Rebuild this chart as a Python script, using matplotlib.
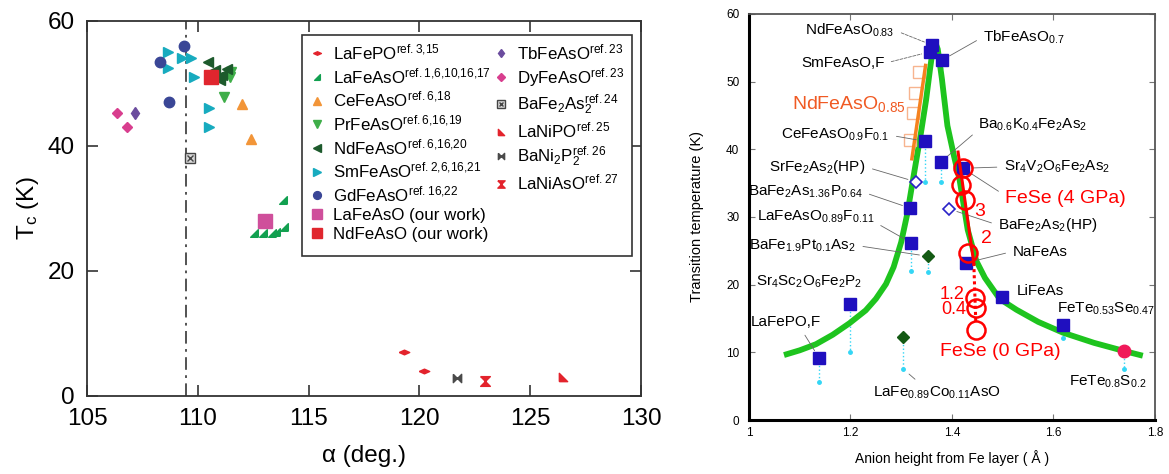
import numpy as np
import matplotlib.pyplot as plt
from matplotlib.lines import Line2D

plt.rcParams['font.family'] = ['Liberation Sans', 'DejaVu Sans']
plt.rcParams['mathtext.default'] = 'regular'

# ---------------- left panel: Tc vs As-Fe-As bond angle ----------------
lafepo_a, lafepo_tc = [119.3, 120.2], [7.0, 4.0]
lafeaso_a = [112.55, 112.95, 113.35, 113.55, 113.9, 113.85]
lafeaso_tc = [26.1, 26.1, 26.1, 26.3, 27.1, 31.4]
cefeaso_a, cefeaso_tc = [112.0, 112.4], [46.7, 41.1]
prfeaso_a, prfeaso_tc = [111.18, 111.5, 111.45], [47.9, 51.9, 51.1]
ndfeaso_a = [110.45, 110.8, 111.0, 111.3, 111.1, 110.9]
ndfeaso_tc = [53.5, 52.2, 50.6, 52.3, 51.4, 51.0]
smfeaso_a = [108.65, 108.65, 109.3, 109.7, 109.85, 110.5, 110.5]
smfeaso_tc = [55.0, 52.4, 54.0, 54.0, 51.0, 46.0, 43.0]
gdfeaso_a, gdfeaso_tc = [109.4, 108.3, 108.7], [56.0, 53.5, 47.0]
la_our_a, la_our_tc = [113.05], [28.0]
nd_our_a, nd_our_tc = [110.58], [51.1]
tbfeaso_a, tbfeaso_tc = [107.15], [45.3]
dyfeaso_a, dyfeaso_tc = [106.35, 106.8], [45.3, 43.0]
bafe2as2_a, bafe2as2_tc = [109.65], [38.0]
lanipo_a, lanipo_tc = [126.5], [3.0]
bani2p2_a, bani2p2_tc = [121.7], [2.9]
laniaso_a, laniaso_tc = [122.95], [2.4]
alpha_regular = 109.47

# ---------------- right panel: Tc vs anion height ----------------
sq_names = [r'NdFeAsO$_{0.83}$', 'SmFeAsO,F', r'TbFeAsO$_{0.7}$',
            r'CeFeAsO$_{0.9}$F$_{0.1}$', r'Ba$_{0.6}$K$_{0.4}$Fe$_2$As$_2$',
            r'Sr$_4$V$_2$O$_6$Fe$_2$As$_2$', r'BaFe$_2$As$_{1.36}$P$_{0.64}$',
            r'LaFeAsO$_{0.89}$F$_{0.11}$', 'NaFeAs', 'LiFeAs',
            r'FeTe$_{0.53}$Se$_{0.47}$', r'Sr$_4$Sc$_2$O$_6$Fe$_2$P$_2$', 'LaFePO,F']
sq_h = [1.361, 1.356, 1.381, 1.346, 1.379, 1.4216, 1.318, 1.3195, 1.427,
        1.499, 1.619, 1.1996, 1.138]
sq_tc = [55.4, 54.4, 53.2, 41.2, 38.2, 37.2, 31.3, 26.2, 23.2, 18.2, 14.0, 17.1, 9.2]
sq_drop = [np.nan, 52.2, 50.2, 35.2, 35.2, np.nan, np.nan, 22.0, np.nan,
           np.nan, 12.1, 10.1, 5.6]

gd_names = [r'BaFe$_{1.9}$Pt$_{0.1}$As$_2$', r'LaFe$_{0.89}$Co$_{0.11}$AsO']
gd_h, gd_tc, gd_drop = [1.352, 1.303], [24.2, 12.2], [21.8, 7.6]

od_names = [r'SrFe$_2$As$_2$(HP)', r'BaFe$_2$As$_2$(HP)']
od_h, od_tc = [1.329, 1.394], [35.2, 31.2]

fets_name = r'FeTe$_{0.8}$S$_{0.2}$'
fets_h, fets_tc, fets_drop = [1.739], [10.2], [7.6]

nd085_h = [1.336, 1.328, 1.323, 1.318]
nd085_tc = [51.4, 48.3, 45.3, 41.4]
nd085_line_h, nd085_line_tc = [1.321, 1.348], [38.6, 52.4]

fese_h = [1.4216, 1.418, 1.425, 1.431, 1.445, 1.447, 1.448]
fese_tc = [37.2, 34.7, 32.5, 24.7, 18.0, 16.5, 13.3]
fese_line_h, fese_line_tc = [1.412, 1.443], [39.6, 23.2]
fese_dot_h, fese_dot_tc = [1.443, 1.447], [23.2, 14.3]

curve_h = [1.069, 1.10, 1.132, 1.165, 1.198, 1.23, 1.25, 1.27, 1.285, 1.30,
           1.312, 1.322, 1.339, 1.349, 1.357, 1.362, 1.367, 1.372, 1.38, 1.391,
           1.404, 1.415, 1.431, 1.448, 1.465, 1.494, 1.527, 1.57, 1.619, 1.68,
           1.739, 1.776]
curve_tc = [9.6, 10.3, 11.2, 12.6, 14.3, 16.2, 17.9, 20.1, 22.6, 26.3,
            30.5, 35.0, 42.5, 47.3, 52.0, 54.6, 55.8, 54.8, 50.5, 43.5,
            39.0, 35.5, 28.1, 23.5, 21.0, 17.9, 16.3, 14.5, 12.9, 11.4,
            10.2, 9.5]

fig = plt.figure(figsize=(11.69, 4.74), dpi=100)
ax1 = fig.add_axes([0.0744, 0.1646, 0.4739, 0.7911])
ax2 = fig.add_axes([0.6407, 0.1139, 0.3473, 0.8566])

# custom marker shapes
wedge_se = [(1, -1), (1, 1), (-1, -1), (1, -1)]
wedge_sw = [(-1, -1), (-1, 1), (1, -1), (-1, -1)]
bowtie = [(-1, 1), (1, -1), (1, 1), (-1, -1), (-1, 1)]
hourglass = [(-1, 1), (1, 1), (-1, -1), (1, -1), (-1, 1)]
flat_diamond = [(-1, 0), (0, 0.45), (1, 0), (0, -0.45), (-1, 0)]


def pts(ax, x, y, marker, color, ms, **kw):
    return ax.plot(x, y, ls='none', marker=marker, color=color, mec=color,
                   ms=ms, **kw)[0]


ax1.axvline(alpha_regular, color='#444444', lw=1.3, ls=(0, (7, 3, 1.5, 3)), zorder=1)
h_lafepo = pts(ax1, lafepo_a, lafepo_tc, flat_diamond, '#e3232c', 7.5)
h_lafeaso = pts(ax1, lafeaso_a, lafeaso_tc, wedge_se, '#12a050', 5.5)
h_ce = pts(ax1, cefeaso_a, cefeaso_tc, '^', '#f29538', 7.5)
h_pr = pts(ax1, prfeaso_a, prfeaso_tc, 'v', '#3fae49', 7.5)
h_nd = pts(ax1, ndfeaso_a, ndfeaso_tc, '<', '#1d5a2c', 7)
h_sm = pts(ax1, smfeaso_a, smfeaso_tc, '>', '#17abbf', 7)
h_gd = pts(ax1, gdfeaso_a, gdfeaso_tc, 'o', '#3a4696', 7.5)
h_laour = pts(ax1, la_our_a, la_our_tc, 's', '#cf4f9b', 9.5)
h_ndour = pts(ax1, nd_our_a, nd_our_tc, 's', '#e0262e', 9.5)
h_tb = pts(ax1, tbfeaso_a, tbfeaso_tc, 'd', '#6b4c9e', 6)
h_dy = pts(ax1, dyfeaso_a, dyfeaso_tc, 'D', '#d83e8e', 5)
h_ba1 = ax1.plot(bafe2as2_a, bafe2as2_tc, ls='none', marker='s', ms=7,
                 mfc='#d8d8d8', mec='#444444', mew=1.0)[0]
h_ba2 = ax1.plot(bafe2as2_a, bafe2as2_tc, ls='none', marker='x', ms=4,
                 color='#444444', mew=1.0)[0]
h_lanipo = pts(ax1, lanipo_a, lanipo_tc, wedge_sw, '#e3232c', 6)
h_bani = pts(ax1, bani2p2_a, bani2p2_tc, bowtie, '#4a4a4a', 6)
h_laniaso = pts(ax1, laniaso_a, laniaso_tc, hourglass, '#e3232c', 7)

blank = Line2D([], [], ls='none')
handles = [h_lafepo, h_lafeaso, h_ce, h_pr, h_nd, h_sm, h_gd, h_laour, h_ndour,
           h_tb, h_dy, (h_ba1, h_ba2), h_lanipo, h_bani, h_laniaso, blank, blank, blank]
labels = [r'LaFePO$^{ref.3{,}15}$', r'LaFeAsO$^{ref.1{,}6{,}10{,}16{,}17}$',
          r'CeFeAsO$^{ref.6{,}18}$', r'PrFeAsO$^{ref.6{,}16{,}19}$',
          r'NdFeAsO$^{ref.6{,}16{,}20}$', r'SmFeAsO$^{ref.2{,}6{,}16{,}21}$',
          r'GdFeAsO$^{ref.16{,}22}$', 'LaFeAsO (our work)', 'NdFeAsO (our work)',
          r'TbFeAsO$^{ref.23}$', r'DyFeAsO$^{ref.23}$', r'BaFe$_2$As$_2^{ref.24}$',
          r'LaNiPO$^{ref.25}$', r'BaNi$_2$P$_2^{ref.26}$', r'LaNiAsO$^{ref.27}$',
          '', '', '']
leg = ax1.legend(handles, labels, ncol=2, loc='upper left',
                 bbox_to_anchor=(0.388, 0.963), fancybox=False, framealpha=1,
                 edgecolor='#333333', fontsize=12.2, handlelength=0.9,
                 handletextpad=0.5, columnspacing=0.1, labelspacing=0.22,
                 borderpad=0.45, borderaxespad=0, markerscale=0.75)
leg.get_frame().set_linewidth(1.2)

ax1.set_xlim(105, 130)
ax1.set_ylim(0, 60)
ax1.set_xticks([105, 110, 115, 120, 125, 130])
ax1.set_yticks([0, 20, 40, 60])
ax1.tick_params(direction='in', length=8, width=1.2, labelsize=17.5, top=True,
                right=True, color='#333333')
ax1.tick_params(axis='x', pad=9)
ax1.tick_params(axis='y', pad=9)
for s in ax1.spines.values():
    s.set_linewidth(1.3)
    s.set_color('#333333')
ax1.set_xlabel('α (deg.)', fontsize=17.5)
ax1.set_ylabel(r'T$_c$ (K)', fontsize=17.5)
ax1.xaxis.set_label_coords(0.5, -0.13)
ax1.yaxis.set_label_coords(-0.083, 0.5)

# ---------------- right panel drawing ----------------
cyan = '#33d6f5'
ax2.plot(curve_h, curve_tc, color='#1ec41e', lw=4.2, solid_capstyle='butt',
         solid_joinstyle='round', zorder=2)
for h, tc, d in zip(sq_h + gd_h + fets_h, sq_tc + gd_tc + fets_tc,
                    sq_drop + gd_drop + fets_drop):
    if not np.isnan(d):
        ax2.plot([h, h], [tc, d], ls=':', color=cyan, lw=1.0, zorder=1)
        ax2.plot(h, d, ls='none', marker='o', ms=2.5, color=cyan, zorder=1)

ax2.plot(nd085_h, nd085_tc, ls='none', marker='s', ms=8, mfc='none',
         mec='#f7b48f', mew=1.0, zorder=2)
ax2.plot(nd085_line_h, nd085_line_tc, color='#f5821f', lw=2.5, zorder=3)

pts(ax2, sq_h, sq_tc, 's', '#1f0fbf', 8.5, zorder=4)
pts(ax2, gd_h, gd_tc, 'D', '#145a14', 6.5, zorder=4)
ax2.plot(od_h, od_tc, ls='none', marker='D', ms=6.5, mfc='white',
         mec='#2a22c8', mew=1.2, zorder=4)
pts(ax2, fets_h, fets_tc, 'o', '#f0195a', 9, zorder=4)

ax2.plot(fese_line_h, fese_line_tc, color='red', lw=2.2, zorder=5)
ax2.plot(fese_dot_h, fese_dot_tc, color='red', lw=2.2, ls=(0, (1, 1)), zorder=5)
ax2.plot(fese_h, fese_tc, ls='none', marker='o', ms=13, mfc='none',
         mec='red', mew=1.8, zorder=6)

lab = dict(fontsize=11, va='center')
lead = dict(arrowstyle='-', color='#666666', lw=0.6, shrinkA=3, shrinkB=6)
dash = dict(lead, ls='--')


def note(text, xy, xytext, ha, ap=lead, relpos=None, **kw):
    props = dict(ap)
    if relpos is None:
        relpos = (1, 0.5) if ha == 'right' else (0, 0.5)
    props['relpos'] = relpos
    ax2.annotate(text, xy=xy, xytext=xytext, ha=ha, arrowprops=props, **dict(lab, **kw))


note(sq_names[0], (sq_h[0], sq_tc[0]), (1.287, 57.6), 'right', dash)
note(sq_names[1], (sq_h[1], sq_tc[1]), (1.267, 52.7), 'right', dash)
note(sq_names[2], (sq_h[2], sq_tc[2]), (1.461, 56.6), 'left')
note(sq_names[3], (sq_h[3], sq_tc[3]), (1.277, 42.1), 'right')
note(sq_names[4], (sq_h[4], sq_tc[4]), (1.452, 43.6), 'left', relpos=(0, 0.2))
note(od_names[0], (od_h[0], od_tc[0]), (1.230, 37.4), 'right')
note(sq_names[5], (sq_h[5], sq_tc[5]), (1.502, 37.4), 'left')
note(sq_names[6], (sq_h[6], sq_tc[6]), (1.224, 33.7), 'right')
note(od_names[1], (od_h[1], od_tc[1]), (1.491, 28.8), 'left')
note(sq_names[7], (sq_h[7], sq_tc[7]), (1.247, 30.0), 'right', relpos=(1, 0.2))
note(gd_names[0], (gd_h[0], gd_tc[0]), (1.211, 25.8), 'right')
ax2.text(1.013, 20.4, sq_names[11], ha='left', **lab)
note(sq_names[12], (sq_h[12], sq_tc[12]), (1.003, 14.5), 'left', relpos=(0.72, 0))
note(sq_names[8], (sq_h[8], sq_tc[8]), (1.519, 24.9), 'left')
ax2.text(1.527, 19.05, sq_names[9], ha='left', **lab)
ax2.text(1.606, 16.4, sq_names[10], ha='left', **lab)
ax2.text(1.631, 5.7, fets_name, ha='left', **lab)
note(gd_names[1], (gd_h[1], gd_drop[1]), (1.244, 4.0), 'left', relpos=(0.38, 1))
ax2.text(1.085, 46.7, r'NdFeAsO$_{0.85}$', ha='left', color='#f05a23', fontsize=14, va='center')

red = dict(color='red', fontsize=14, va='center')
note('FeSe (4 GPa)', (fese_h[0], fese_tc[0]), (1.504, 32.7), 'left', relpos=(0, 0.7), **red)
ax2.text(1.455, 30.8, '3', ha='center', **red)
ax2.text(1.468, 26.8, '2', ha='center', **red)
ax2.text(1.425, 18.6, '1.2', ha='right', **dict(red, fontsize=13))
ax2.text(1.428, 16.4, '0.4', ha='right', **dict(red, fontsize=13))
ax2.text(1.496, 10.1, 'FeSe (0 GPa)', ha='center', **red)

ax2.set_xlim(1.0, 1.8)
ax2.set_ylim(0, 60)
ax2.set_xticks([1.0, 1.2, 1.4, 1.6, 1.8])
ax2.set_xticklabels(['1', '1.2', '1.4', '1.6', '1.8'])
ax2.set_yticks(range(0, 61, 10))
ax2.tick_params(direction='in', length=4, width=0.8, labelsize=8.5, top=True,
                right=True, color='#777777')
ax2.tick_params(axis='x', pad=5)
ax2.tick_params(axis='y', pad=7)
for side in ['left', 'bottom']:
    ax2.spines[side].set_linewidth(2.2)
    ax2.spines[side].set_color('black')
for side in ['top', 'right']:
    ax2.spines[side].set_linewidth(1.3)
    ax2.spines[side].set_color('#555555')
ax2.set_xlabel('Anion height from Fe layer ( Å )', fontsize=10)
ax2.set_ylabel('Transition temperature (K)', fontsize=10.5)
ax2.xaxis.set_label_coords(0.5, -0.075)
ax2.yaxis.set_label_coords(-0.11, 0.5)

fig.savefig('out.png', dpi=100)
